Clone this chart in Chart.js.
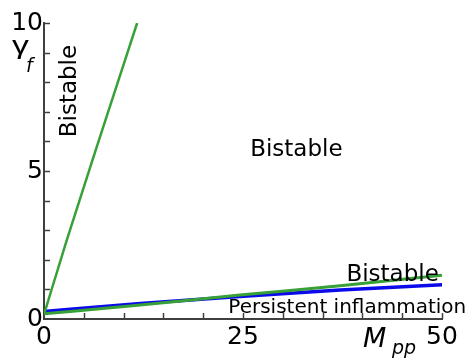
<!DOCTYPE html>
<html><head><meta charset="utf-8">
<script src="https://cdn.jsdelivr.net/npm/chart.js@4.4.1/dist/chart.umd.min.js"></script>
<style>html,body{margin:0;padding:0;background:#fff;overflow:hidden}#wrap{width:474px;height:363px}</style>
</head><body><div id="wrap"><canvas id="c" width="474" height="363"></canvas></div>
<script>
// ---- data ----
const xTickLabels = {0: '0', 25: '25', 50: '50'};
const yTickLabels = {0: '0', 5: '5', 10: '10'};

const steepX = [0, 2.9, 7.7, 11.7];
const steepY = [0.15, 2.7, 6.7, 10];

const lowGreenX = [0, 3.3, 12.1, 24.6, 37.2, 50];
const lowGreenY = [0.18, 0.25, 0.47, 0.81, 1.12, 1.48];

const blueX = [0, 3.3, 12.1, 24.6, 37.2, 50];
const blueY = [0.25, 0.33, 0.52, 0.76, 0.98, 1.16];

const regionText = ['Bistable', 'Bistable', 'Bistable', 'Persistent inflammation'];
const regionX = [3.3, 31.7, 43.8, 38.1];
const regionY = [7.7, 5.7, 1.48, 0.37];

const xAxisTitle = ['M', 'pp'];
const yAxisTitle = ['γ', 'f'];

// ---- build ----
const pts = (xs, ys) => xs.map((x, i) => ({x: x, y: ys[i]}));
const GREEN = 'rgb(55,160,55)';
const BLUE = 'rgb(10,10,235)';
const AXIS = '#404040';
const FONT = '"DejaVu Sans", sans-serif';

const innerTicks = {
  id: 'innerTicks',
  afterDraw(chart) {
    const ctx = chart.ctx, xs = chart.scales.x, ys = chart.scales.y;
    const a = chart.chartArea;
    ctx.save();
    ctx.strokeStyle = AXIS; ctx.lineWidth = 1.5;
    xs.ticks.forEach(t => {
      if (t.value === 0) return;
      const px = Math.round(xs.getPixelForValue(t.value)) + 0.5;
      ctx.beginPath(); ctx.moveTo(px, a.bottom); ctx.lineTo(px, a.bottom - 6); ctx.stroke();
    });
    ys.ticks.forEach(t => {
      if (t.value === 0) return;
      const py = Math.round(ys.getPixelForValue(t.value)) + 0.5;
      ctx.beginPath(); ctx.moveTo(a.left, py); ctx.lineTo(a.left + 6, py); ctx.stroke();
    });
    ctx.restore();
  }
};

const textLayer = {
  id: 'textLayer',
  afterDraw(chart) {
    const ctx = chart.ctx, xs = chart.scales.x, ys = chart.scales.y;
    const a = chart.chartArea;
    ctx.save();
    ctx.fillStyle = '#000';
    ctx.textAlign = 'center'; ctx.textBaseline = 'middle';
    regionText.forEach((t, i) => {
      const px = xs.getPixelForValue(regionX[i]);
      const py = ys.getPixelForValue(regionY[i]);
      if (i === 3) ctx.font = '20px ' + FONT; else ctx.font = '23px ' + FONT;
      if (i === 0) {
        ctx.save(); ctx.translate(px, py); ctx.rotate(-Math.PI / 2);
        ctx.fillText(t, 0, 0); ctx.restore();
      } else {
        ctx.fillText(t, px, py);
      }
    });
    // axis titles
    ctx.textAlign = 'left'; ctx.textBaseline = 'alphabetic';
    ctx.save();
    ctx.translate(a.left - 32, 54);
    ctx.scale(1.3, 1);
    ctx.font = '26px "Liberation Sans", sans-serif';
    ctx.fillText(yAxisTitle[0], 0, 0);
    ctx.restore();
    ctx.font = 'italic 19px ' + FONT;
    ctx.fillText(yAxisTitle[1], a.left - 18, 72);
    ctx.font = 'italic 27px ' + FONT;
    ctx.fillText(xAxisTitle[0], a.right - 79, 347);
    ctx.font = 'italic 19px ' + FONT;
    ctx.fillText(xAxisTitle[1], a.right - 50, 354);
    ctx.restore();
  }
};

new Chart(document.getElementById('c'), {
  type: 'scatter',
  data: {
    datasets: [
      {data: pts(blueX, blueY), showLine: true, borderColor: BLUE, borderWidth: 3.5, pointRadius: 0, cubicInterpolationMode: 'monotone', order: 3},
      {data: pts(lowGreenX, lowGreenY), showLine: true, borderColor: GREEN, borderWidth: 3, pointRadius: 0, cubicInterpolationMode: 'monotone', order: 2},
      {data: pts(steepX, steepY), showLine: true, borderColor: GREEN, borderWidth: 2.5, pointRadius: 0, cubicInterpolationMode: 'monotone', order: 1}
    ]
  },
  options: {
    responsive: false, animation: false, devicePixelRatio: 1,
    layout: {padding: {top: 23, right: 32, left: 0, bottom: 0}},
    plugins: {legend: {display: false}, tooltip: {enabled: false}},
    scales: {
      x: {
        type: 'linear', min: 0, max: 50,
        afterFit(s) { s.height = 44; },
        grid: {display: false, drawTicks: false},
        border: {display: true, color: AXIS, width: 2},
        ticks: {stepSize: 5, autoSkip: false, maxRotation: 0, padding: 3, color: '#000',
          font: {family: FONT, size: 25}, callback: v => xTickLabels[v] ?? ''}
      },
      y: {
        type: 'linear', min: 0, max: 10,
        afterFit(s) { s.width = 44; },
        grid: {display: false, drawTicks: false},
        border: {display: true, color: AXIS, width: 2},
        ticks: {stepSize: 1, autoSkip: false, padding: 1, color: '#000',
          font: {family: FONT, size: 25}, callback: v => yTickLabels[v] ?? ''}
      }
    }
  },
  plugins: [innerTicks, textLayer]
});
</script>
</body></html>
